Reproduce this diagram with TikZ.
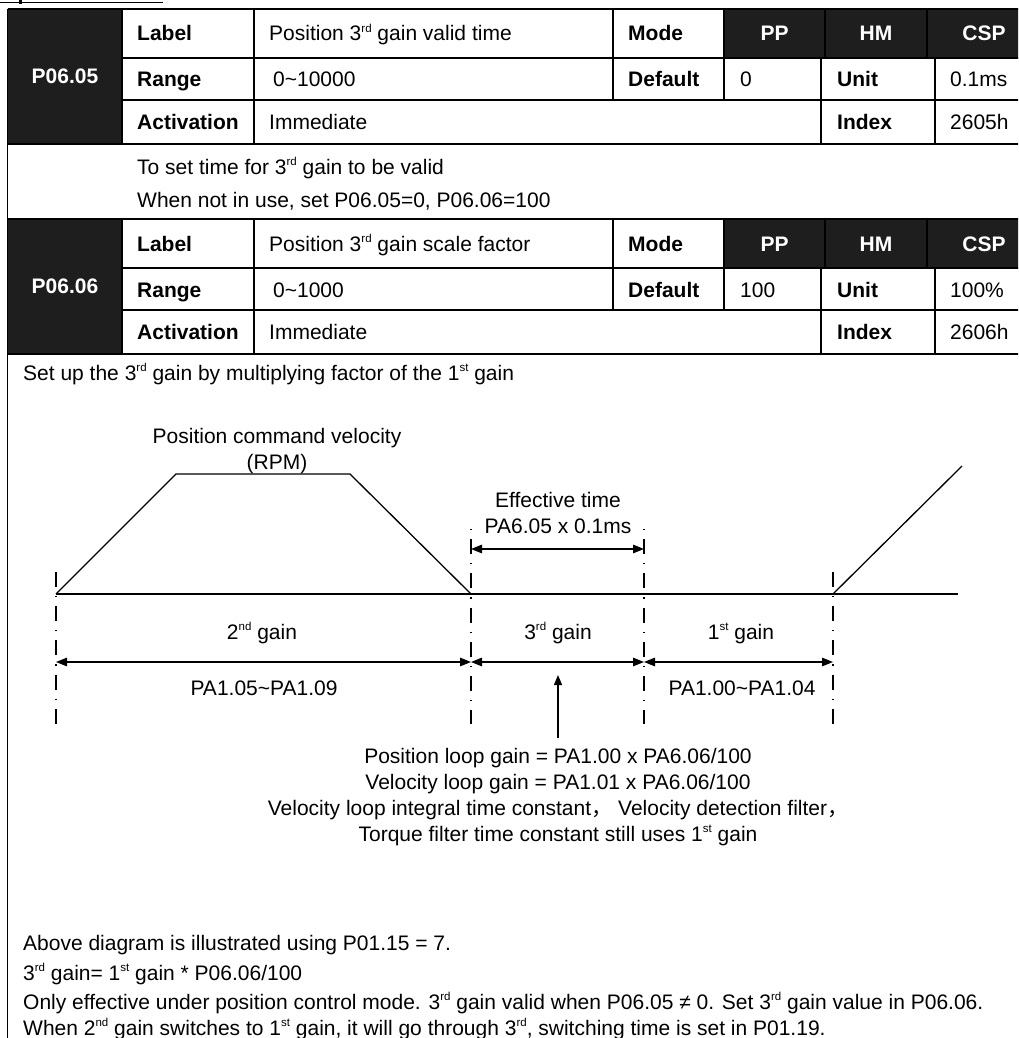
\documentclass[tikz,border=0pt]{standalone}
\usepackage{fontspec}
\setmainfont{Liberation Sans}
\newfontfamily\cjk{Noto Sans CJK SC}
\usetikzlibrary{arrows.meta}
\definecolor{darkcell}{RGB}{30,30,30}
\newcommand\supx[1]{\raisebox{8.5pt}{\fontsize{11.5}{12}\selectfont #1}}
\begin{document}
\begin{tikzpicture}[x=1pt,y=-1pt,
  tline/.style={line width=1.8pt},
  dline/.style={line width=1.3pt},
  dashdot/.style={line width=1.3pt, dash pattern=on 15pt off 9pt on 1.2pt off 9pt},
  dotfirst/.style={dashdot, dash phase=24pt},
  txt/.style={inner sep=0pt, font=\fontsize{21}{25}\selectfont, anchor=base west},
  txtc/.style={txt, anchor=base},
  btxt/.style={txt, font=\fontsize{21}{25}\selectfont\bfseries},
  wtxt/.style={btxt, text=white, anchor=base},
  dim/.style={line width=1.3pt, {Triangle[length=11pt,width=8.5pt]}-{Triangle[length=11pt,width=8.5pt]}},
  uparr/.style={line width=1.3pt, -{Triangle[length=10pt,width=8pt]}},
]
\useasboundingbox (0,0) rectangle (1018,1038);
\clip (0,0) rectangle (1018,1038);

% cut-off heading above the tables
\fill (0,1.6) rectangle (163,2.9);
\fill (18.5,0) rectangle (21.5,4.2);

% ---------- parameter tables ----------
\foreach \dy in {0,210}{
\begin{scope}[shift={(0,\dy)}]
  \fill[darkcell] (7.5,9) rectangle (122,144);
  \fill[darkcell] (724,9) rectangle (1041,58);
  \draw[tline] (7.5,9) -- (1041,9);
  \draw[tline] (122,58) -- (1041,58);
  \draw[tline] (122,100) -- (1041,100);
  \draw[tline] (7.5,144) -- (1041,144);
  \draw[tline] (122,9) -- (122,144);
  \draw[tline] (254,9) -- (254,144);
  \draw[tline] (613,9) -- (613,100);
  \draw[tline] (724,9) -- (724,100);
  \draw[tline] (825,9) -- (825,58);
  \draw[tline] (927,9) -- (927,58);
  \draw[tline] (821,58) -- (821,144);
  \draw[tline] (935,58) -- (935,144);
\end{scope}}
\draw[tline] (7.5,9) -- (7.5,1040);

% table 1
\node[wtxt] (p0605) at (65,84) {P06.05};
\node[btxt] (lab1) at (137,41) {Label};
\node[txt] (lab1v) at (269,41) {Position 3\supx{rd} gain valid time};
\node[btxt] (mode1) at (628,41) {Mode};
\node[wtxt] (pp1) at (774.5,41) {PP};
\node[wtxt] (hm1) at (876,41) {HM};
\node[wtxt] (csp1) at (984,41) {CSP};
\node[btxt] (rng1) at (137,87) {Range};
\node[txt] (rng1v) at (273,87) {0\textasciitilde 10000};
\node[btxt] (def1) at (628,87) {Default};
\node[txt] (def1v) at (740,87) {0};
\node[btxt] (unit1) at (837,87) {Unit};
\node[txt] (unit1v) at (950,87) {0.1ms};
\node[btxt] (act1) at (137,130) {Activation};
\node[txt] (act1v) at (269,130) {Immediate};
\node[btxt] (idx1) at (837,130) {Index};
\node[txt] (idx1v) at (950,130) {2605h};
\node[txt] (desc1) at (137,174) {To set time for 3\supx{rd} gain to be valid};
\node[txt] (desc2) at (137,207) {When not in use, set P06.05=0, P06.06=100};

% table 2
\node[wtxt] (p0606) at (65,293.5) {P06.06};
\node[btxt] (lab2) at (137,251) {Label};
\node[txt] (lab2v) at (269,251) {Position 3\supx{rd} gain scale factor};
\node[btxt] (mode2) at (628,251) {Mode};
\node[wtxt] (pp2) at (774.5,251) {PP};
\node[wtxt] (hm2) at (876,251) {HM};
\node[wtxt] (csp2) at (984,251) {CSP};
\node[btxt] (rng2) at (137,297) {Range};
\node[txt] (rng2v) at (273,297) {0\textasciitilde 1000};
\node[btxt] (def2) at (628,297) {Default};
\node[txt] (def2v) at (740,297) {100};
\node[btxt] (unit2) at (837,297) {Unit};
\node[txt] (unit2v) at (950,297) {100\%};
\node[btxt] (act2) at (137,339.5) {Activation};
\node[txt] (act2v) at (269,339.5) {Immediate};
\node[btxt] (idx2) at (837,339.5) {Index};
\node[txt] (idx2v) at (950,339.5) {2606h};

\node[txt] (setup) at (23,380) {Set up the 3\supx{rd} gain by multiplying factor of the 1\supx{st} gain};

% ---------- timing diagram ----------
\node[txtc] (pcv) at (277,443) {Position command velocity};
\node[txtc] (rpm) at (277,469) {(RPM)};

\coordinate (a0) at (56,594);
\coordinate (a1) at (176,474);
\coordinate (a2) at (350,474);
\coordinate (a3) at (471,594);
\coordinate (e0) at (958,594);
\coordinate (b0) at (833,594);
\coordinate (b1) at (962,466);
\draw[dline, line join=miter] (a0) -- (a1) -- (a2) -- (a3);
\draw[dline] (a0) -- (e0);
\draw[dline] (b0) -- (b1);

\coordinate (v1t) at (56,572);  \coordinate (v1b) at (56,724);
\coordinate (v2t) at (471,529); \coordinate (v2b) at (471,724);
\coordinate (v3t) at (644,529); \coordinate (v3b) at (644,724);
\coordinate (v4t) at (833,572); \coordinate (v4b) at (833,724);
\draw[dashdot] (v1t) -- (v1b);
\draw[dotfirst] (v2t) -- (v2b);
\draw[dotfirst] (v3t) -- (v3b);
\draw[dashdot] (v4t) -- (v4b);

\node[txtc] (eff) at (558,507) {Effective time};
\node[txtc] (effv) at (558,533) {PA6.05 x 0.1ms};
\coordinate (f0) at (471,549);
\coordinate (f1) at (644,549);
\draw[dim] (f0) -- (f1);

\node[txtc] (g2) at (262,639) {2\supx{nd} gain};
\node[txtc] (g3) at (558,639) {3\supx{rd} gain};
\node[txtc] (g1) at (741,639) {1\supx{st} gain};

\coordinate (d0) at (56,662);
\coordinate (d1) at (471,662);
\coordinate (d2) at (644,662);
\coordinate (d3) at (833,662);
\draw[dim] (d0) -- (d1);
\draw[dim] (d1) -- (d2);
\draw[dim] (d2) -- (d3);

\node[txtc] (g2r) at (264,695) {PA1.05\textasciitilde PA1.09};
\node[txtc] (g1r) at (742,695) {PA1.00\textasciitilde PA1.04};

\coordinate (upb) at (558,738);
\coordinate (upt) at (558,675);
\draw[uparr] (upb) -- (upt);

\node[txtc] (pl1) at (558,763) {Position loop gain = PA1.00 x PA6.06/100};
\node[txtc] (pl2) at (558,789) {Velocity loop gain = PA1.01 x PA6.06/100};
\node[txtc] (pl3) at (558,815) {Velocity loop integral time constant{\cjk ，}\hspace{6pt}Velocity detection filter{\cjk ，}\hspace{6pt}};
\node[txtc] (pl4) at (558,841) {Torque filter time constant still uses 1\supx{st} gain};

% ---------- notes ----------
\node[txt] (note1) at (23,950) {Above diagram is illustrated using P01.15 = 7.};
\node[txt] (note2) at (23,980) {3\supx{rd} gain= 1\supx{st} gain * P06.06/100};
\node[txt] (note3) at (23,1009) {Only effective under position control mode. 3\supx{rd} gain valid when P06.05 ≠ 0. Set 3\supx{rd} gain value in P06.06.};
\node[txt] (note4) at (23,1035) {When 2\supx{nd} gain switches to 1\supx{st} gain, it will go through 3\supx{rd}, switching time is set in P01.19.};
\end{tikzpicture}
\end{document}
